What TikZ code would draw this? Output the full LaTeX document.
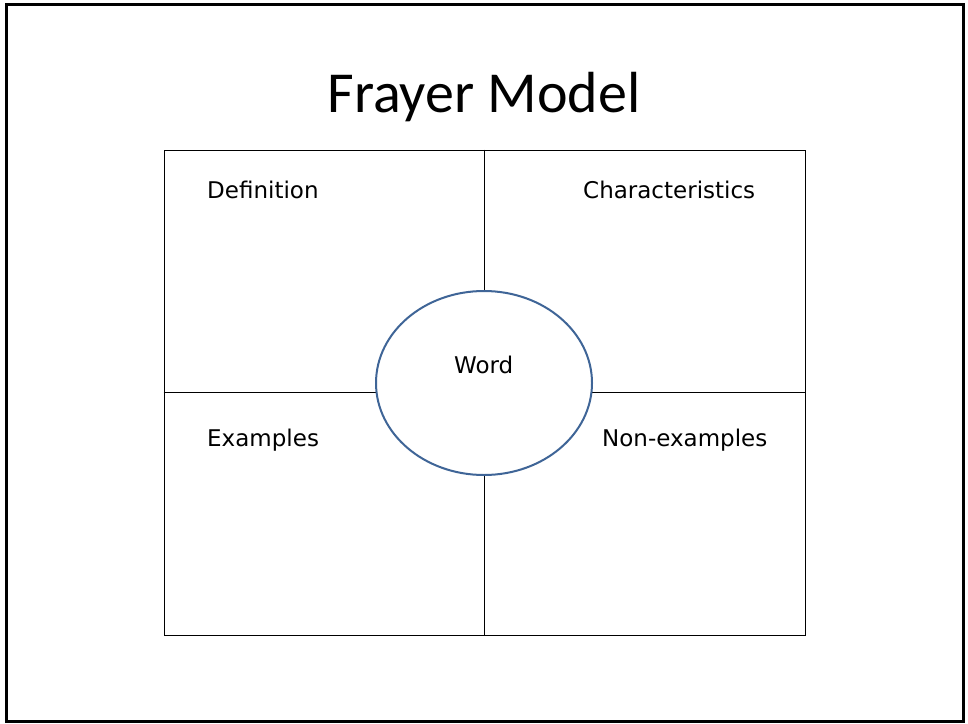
\documentclass[tikz,border=0pt]{standalone}
\usepackage{fontspec}
\setmainfont{Carlito}
\newfontfamily\labelfont{DejaVu Sans}
\usetikzlibrary{shapes.geometric}

\definecolor{wordblue}{HTML}{3F6597}

\tikzset{
	cornerlabel/.style = {anchor = base west, inner sep = 0 pt, font = \labelfont\fontsize{23}{27}\selectfont},
	gridline/.style = {line width = 0.9 pt}
}

\begin{document}
\begin{tikzpicture}[x = 1 pt, y = -1 pt]

	\useasboundingbox (0, 0) rectangle (968, 723);
	
	\draw [line width = 3 pt] (6, 4.5) rectangle (963, 721.5);
	
	\node [anchor = base, inner sep = 0 pt, font = \fontsize{58}{64}\selectfont] (title) at (484, 112) {Frayer Model};
	
	\node [draw, gridline, minimum width = 641 pt, minimum height = 485 pt, inner sep = 0 pt] (grid) at (484.5, 392.5) {};
	
	\draw [gridline] (grid.north) -- (grid.south);
	\draw [gridline] (grid.west) -- (grid.east);
	
	\node [ellipse, draw = wordblue, line width = 2 pt, fill = white, minimum width = 216 pt, minimum height = 184 pt, inner sep = 0 pt] (word) at (484, 383) {};
	
	\node [cornerlabel] (wordtext) at (454, 373) {Word};
	
	\node [cornerlabel] (definition) at (207, 198) {Definition};
	\node [cornerlabel] (characteristics) at (583, 198) {Characteristics};
	\node [cornerlabel] (examples) at (207, 446) {Examples};
	\node [cornerlabel] (nonexamples) at (602, 446) {Non-examples};

\end{tikzpicture}
\end{document}
